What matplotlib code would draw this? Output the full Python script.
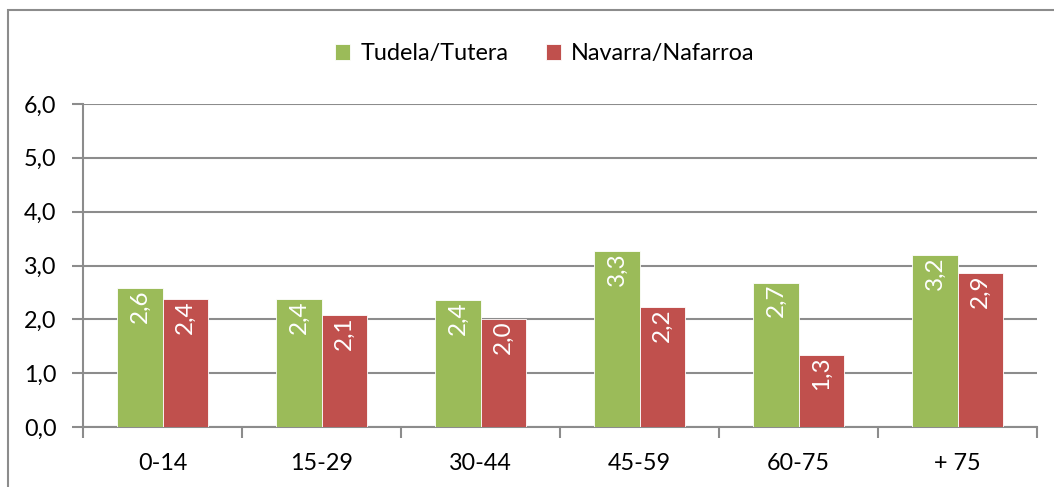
import numpy as np
import matplotlib.pyplot as plt
from matplotlib.patches import Rectangle

grupos = ["0-14", "15-29", "30-44", "45-59", "60-75", "+ 75"]
tudela = [2.58, 2.38, 2.36, 3.27, 2.68, 3.19]
navarra = [2.38, 2.08, 2.0, 2.22, 1.34, 2.86]
series = ["Tudela/Tutera", "Navarra/Nafarroa"]

verde = "#9BBB59"
rojo = "#C0504D"
gris = "#8C8C8C"

plt.rcParams["font.family"] = ["Lato", "DejaVu Sans"]
fs = 16.8

fig = plt.figure(figsize=(10.54, 4.87), dpi=100)
ax = fig.add_axes([83 / 1054, 1 - 427 / 487, (1037 - 83) / 1054, (427 - 104) / 487])

x = np.arange(len(grupos))
ancho = 0.285
b1 = ax.bar(x - ancho / 2, tudela, ancho, color=verde, edgecolor="white",
            linewidth=0.6, label=series[0], zorder=3)
b2 = ax.bar(x + ancho / 2, navarra, ancho, color=rojo, edgecolor="white",
            linewidth=0.6, label=series[1], zorder=3)

for barras, vals in [(b1, tudela), (b2, navarra)]:
    for b, v in zip(barras, vals):
        ax.text(b.get_x() + b.get_width() / 2, v - 0.02,
                f"{v:.1f}".replace(".", ","), rotation=90, ha="center",
                va="top", color="white", fontsize=17.5, zorder=4)

ax.set_xlim(-0.5, len(grupos) - 0.5)
ax.set_ylim(0, 6)
ax.set_yticks(np.arange(0, 7, 1))
ax.set_yticklabels([f"{v:.1f}".replace(".", ",") for v in np.arange(0, 7, 1)],
                   fontsize=fs)
ax.set_xticks(x)
ax.set_xticklabels(grupos, fontsize=fs)
ax.set_xticks(np.arange(-0.5, len(grupos)), minor=True)
ax.tick_params(axis="x", which="major", length=0, pad=19)
ax.tick_params(axis="x", which="minor", length=8, width=1.5, color=gris)
ax.tick_params(axis="y", length=8, width=1.5, color=gris, pad=11)

ax.grid(axis="y", color=gris, linewidth=1.5, zorder=0)
for s in ["top", "right"]:
    ax.spines[s].set_visible(False)
for s in ["left", "bottom"]:
    ax.spines[s].set_color(gris)
    ax.spines[s].set_linewidth(1.5)

ax.legend(loc="upper center", bbox_to_anchor=(0.484, 1 + 82 / 323), ncol=2,
          frameon=False, fontsize=fs, handlelength=0.65, handleheight=0.65,
          handletextpad=0.45, columnspacing=1.6)

fig.patches.append(Rectangle((8 / 1054, -0.1), 1.2, 1 - 10 / 487 + 0.1,
                             transform=fig.transFigure, fill=False,
                             edgecolor=gris, linewidth=1.5))

fig.savefig("out.png", dpi=100)
